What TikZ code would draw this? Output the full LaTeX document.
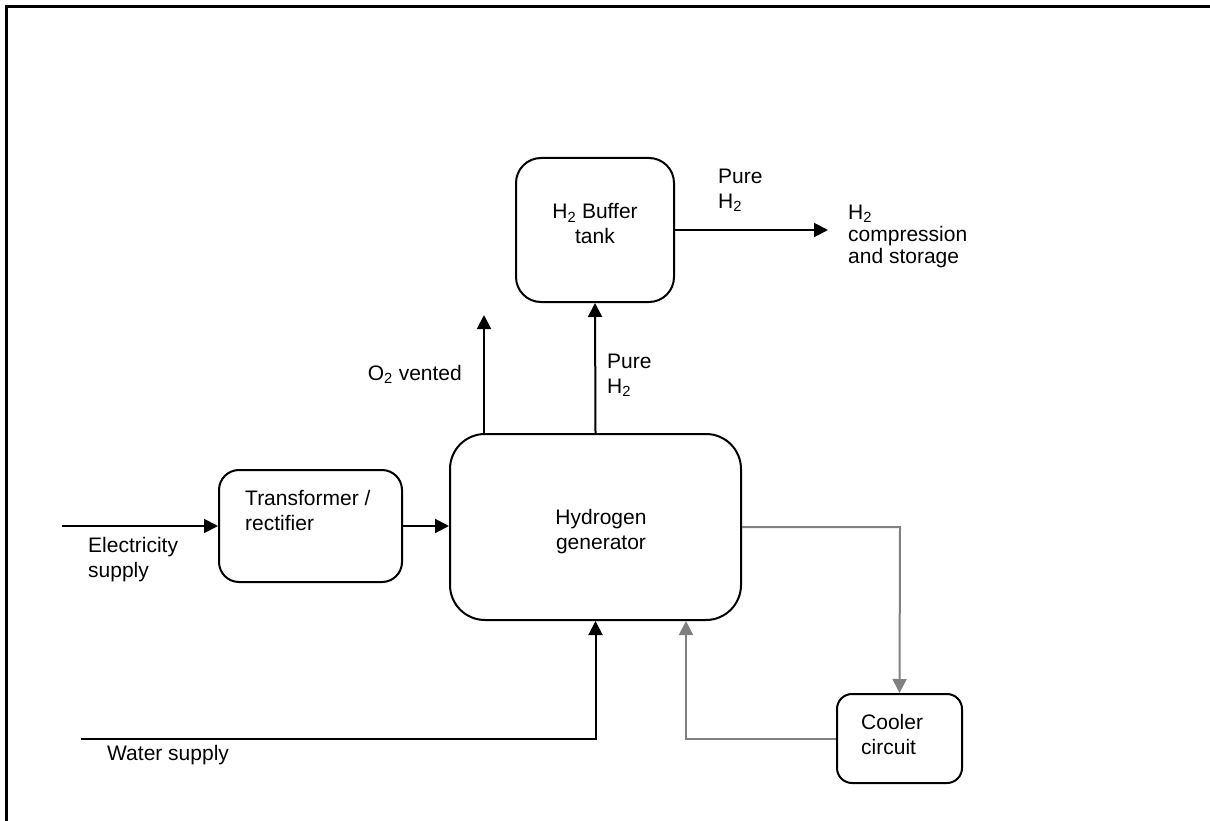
\documentclass[tikz,border=0pt]{standalone}
\usepackage{fontspec}
\setmainfont{Liberation Sans}
\usetikzlibrary{arrows.meta}
\begin{document}
\begin{tikzpicture}[x=1pt,y=-1pt,
  box/.style={draw,line width=2pt,rounded corners=#1,inner sep=0pt},
  txt/.style={inner sep=0pt,align=left,font=\fontsize{21}{25}\selectfont},
  flow/.style={line width=2pt,-{Triangle[length=14pt,width=14pt]}},
  gflow/.style={flow,draw=gray!95,color=gray}]
\useasboundingbox (0,0) rectangle (1210,821);
\draw[line width=2.5pt] (6.5,821) -- (6.5,6.5) -- (1210,6.5);

\node[box=25pt,minimum width=158pt,minimum height=144pt] (buf) at (595,230) {};
\node[box=35pt,minimum width=291pt,minimum height=186pt] (gen) at (595.5,527) {};
\node[box=20pt,minimum width=183pt,minimum height=112pt] (tr) at (310.5,526) {};
\node[box=15pt,minimum width=125pt,minimum height=89pt] (cool) at (899.5,738.5) {};

\node[txt,align=center] (buft) at (595,224) {H\textsubscript{2} Buffer\\tank};
\node[txt,align=center] (gent) at (601,532) {Hydrogen\\generator};
\node[txt,anchor=west] (trt) at (245,510) {Transformer /\\rectifier};
\node[txt,anchor=west] (coolt) at (861,734) {Cooler\\circuit};
\node[txt,anchor=west] (elt) at (88,560) {Electricity\\supply};
\node[txt,anchor=west] (wt) at (107,755) {Water supply};
\node[txt,anchor=east] (o2t) at (462,374) {O\textsubscript{2} vented};
\node[txt,anchor=west] (p1) at (607,375) {Pure\\H\textsubscript{2}};
\node[txt,anchor=west] (p2) at (718,190) {Pure\\H\textsubscript{2}};
\node[inner sep=0pt,align=left,anchor=west,font=\fontsize{21}{22}\selectfont] (st) at (848,236) {H\textsubscript{2}\\compression\\and storage};

\coordinate (e0) at (62,526);
\coordinate (w0) at (81,739);
\coordinate (w1) at (595.5,739);
\coordinate (o2) at (484,315);
\coordinate (st0) at (828,230);
\coordinate (c1) at (900,527);
\coordinate (c2) at (686,739);

\draw[flow] (e0) -- (tr.west);
\draw[flow] (tr.east) -- (gen.west |- tr.east);
\draw[flow] (w0) -- (w1) -- (gen.south);
\draw[flow] (o2 |- gen.north) -- (o2);
\draw[flow] (gen.north) -- (buf.south);
\draw[flow] (buf.east) -- (st0);
\draw[gflow] (gen.east |- c1) -- (c1) -- (cool.north);
\draw[gflow] (cool.west |- c2) -- (c2) -- (c2 |- gen.south);
\end{tikzpicture}
\end{document}
